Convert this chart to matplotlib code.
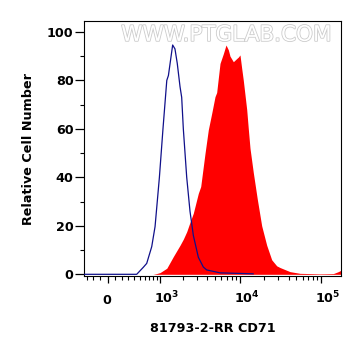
import numpy as np
import matplotlib.pyplot as plt
import matplotlib.patheffects as pe
import matplotlib.transforms as mtransforms

plt.rcParams['font.family'] = ['DejaVu Sans']
plt.rcParams['font.weight'] = 'bold'
plt.rcParams['mathtext.fontset'] = 'dejavusans'

# Histogramas (fluorescencia, % relativo)
blue_x = [-343, 442, 573, 647, 768, 857, 984, 1100, 1236, 1298, 1474, 1578,
          1689, 1831, 1922, 2016, 2224, 2445, 2693, 3108, 3582, 3943, 5754,
          14700]
blue_y = [0, 0, 2.9, 4.5, 11.4, 19.7, 40, 60, 80, 82, 94.6, 93, 87, 77.4,
          73, 60, 40, 26, 16, 7, 3, 1.8, 0.6, 0.2]

red_x = [-343, 800, 900, 1004, 1236, 1502, 1831, 2015, 2224, 2445, 2689,
         3103, 3323, 3757, 4126, 4545, 4993, 5234, 5486, 5754, 6322, 6819,
         7286, 7636, 8395, 9226, 9667, 10130, 10630, 11130, 12250, 12820,
         13450, 14760, 16530, 18720, 21560, 24830, 28600, 31390, 41650,
         55250, 97200, 141700, 163200, 174300]
red_y = [0, 0, 0.3, 0.7, 2.5, 7.3, 12.0, 14.5, 17.6, 21.5, 25.2, 33.4, 36.2,
         49.9, 59.6, 66.4, 73.3, 75, 81, 87, 91, 94.6, 92.6, 90, 87.7, 89,
         89.6, 90.5, 85, 80, 68, 60, 52, 42, 31, 20, 12, 6, 3.5, 2.8, 1.1,
         0.4, 0.2, 0.3, 1.1, 1.6]

xticks_major = [0, 1e3, 1e4, 1e5]
xtick_labels = [r'$\mathbf{0}$', r'$\mathbf{10^3}$', r'$\mathbf{10^4}$', r'$\mathbf{10^5}$']
xticks_minor = ([-300, -200, -100, 100, 200, 300, 400, 500, 600, 700, 800, 900]
                + [k * 1e3 for k in range(2, 10)] + [k * 1e4 for k in range(2, 10)])

W = 480.0


def fwd(x):
    return np.arcsinh(np.asarray(x) / W) / np.log(10)


def inv(u):
    return W * np.sinh(np.asarray(u) * np.log(10))


fig = plt.figure(figsize=(3.61, 3.56), dpi=100)
ax = fig.add_axes([0.2327, 0.2247, 0.7119, 0.7163])
ax.set_xscale('function', functions=(fwd, inv))

ax.fill_between(red_x, red_y, 0, color='#ff0000', linewidth=0, zorder=2)
ax.plot(blue_x, blue_y, color='#10108a', linewidth=0.9, zorder=3)

ax.set_xlim(-343, 176000)
ax.set_ylim(-0.7, 104.5)

ax.set_xticks(xticks_major)
ax.set_xticklabels(xtick_labels)
ax.set_xticks(xticks_minor, minor=True)
ax.set_yticks([0, 20, 40, 60, 80, 100])
ax.set_yticks([10, 30, 50, 70, 90], minor=True)

ax.tick_params(axis='both', which='major', length=5, width=0.9, labelsize=9.2)
ax.tick_params(axis='both', which='minor', length=3, width=0.8)
ax.tick_params(axis='x', which='major', pad=15)
ax.tick_params(axis='y', which='major', length=6.5, pad=1)

# las potencias de 10 van algo corridas a la derecha, como en el original
shift = mtransforms.ScaledTranslation(0.07, 0, fig.dpi_scale_trans)
for i, lab in enumerate(ax.get_xticklabels()):
    lab.set_verticalalignment('baseline')
    if i > 0:
        lab.set_transform(lab.get_transform() + shift)

for s in ax.spines.values():
    s.set_linewidth(0.8)

ax.set_xlabel('81793-2-RR CD71', fontsize=9.2, fontweight='bold', labelpad=11)
ax.set_ylabel('Relative Cell Number', fontsize=9.2, fontweight='bold', labelpad=8.5)

fig.text(0.627, 0.902, 'WWW.PTGLAB.COM', fontsize=15.5, fontweight='normal',
         color='white', ha='center', va='center',
         path_effects=[pe.withStroke(linewidth=1.2, foreground='#cccccc')])

fig.savefig('out.png', dpi=100)
